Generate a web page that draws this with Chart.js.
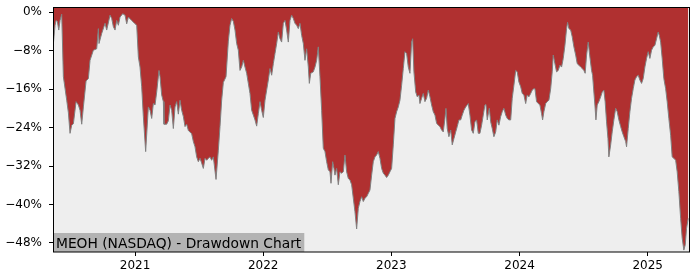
<!DOCTYPE html>
<html>
<head>
<meta charset="utf-8">
<title>MEOH Drawdown</title>
<script src="https://cdn.jsdelivr.net/npm/chart.js@4.4.1/dist/chart.umd.min.js"></script>
<style>
  html, body { margin: 0; padding: 0; background: #fff; }
  canvas { display: block; }
</style>
</head>
<body>
<canvas id="drawdownChart" width="700" height="280"></canvas>
<script>
// dates as decimal years
const years = [
  2020.363, 2020.376, 2020.384, 2020.394, 2020.405, 2020.415, 2020.428, 2020.441, 2020.467, 2020.480,
  2020.493, 2020.506, 2020.519, 2020.540, 2020.558, 2020.571, 2020.584, 2020.597, 2020.618, 2020.636,
  2020.649, 2020.675, 2020.701, 2020.714, 2020.719, 2020.740, 2020.766, 2020.779, 2020.805, 2020.818,
  2020.831, 2020.844, 2020.857, 2020.870, 2020.883, 2020.904, 2020.922, 2020.935, 2020.948, 2020.974,
  2021.000, 2021.013, 2021.026, 2021.039, 2021.052, 2021.065, 2021.083, 2021.104, 2021.117, 2021.130,
  2021.143, 2021.156, 2021.169, 2021.187, 2021.195, 2021.208, 2021.221, 2021.226, 2021.247, 2021.260,
  2021.273, 2021.286, 2021.299, 2021.312, 2021.325, 2021.338, 2021.351, 2021.364, 2021.377, 2021.390,
  2021.403, 2021.416, 2021.442, 2021.455, 2021.468, 2021.481, 2021.494, 2021.507, 2021.520, 2021.533,
  2021.546, 2021.559, 2021.572, 2021.585, 2021.598, 2021.611, 2021.632, 2021.650, 2021.663, 2021.676,
  2021.689, 2021.710, 2021.728, 2021.741, 2021.754, 2021.767, 2021.780, 2021.793, 2021.806, 2021.819,
  2021.832, 2021.845, 2021.858, 2021.871, 2021.884, 2021.897, 2021.910, 2021.923, 2021.936, 2021.949,
  2021.962, 2021.975, 2021.988, 2022.001, 2022.014, 2022.027, 2022.040, 2022.053, 2022.066, 2022.079,
  2022.092, 2022.105, 2022.118, 2022.131, 2022.144, 2022.157, 2022.170, 2022.183, 2022.196, 2022.209,
  2022.222, 2022.235, 2022.248, 2022.261, 2022.274, 2022.287, 2022.300, 2022.313, 2022.326, 2022.339,
  2022.352, 2022.360, 2022.371, 2022.391, 2022.404, 2022.417, 2022.430, 2022.443, 2022.456, 2022.469,
  2022.482, 2022.495, 2022.508, 2022.521, 2022.529, 2022.542, 2022.552, 2022.560, 2022.573, 2022.586,
  2022.599, 2022.612, 2022.625, 2022.638, 2022.651, 2022.664, 2022.677, 2022.690, 2022.703, 2022.716,
  2022.729, 2022.742, 2022.755, 2022.768, 2022.781, 2022.794, 2022.807, 2022.820, 2022.833, 2022.846,
  2022.859, 2022.872, 2022.885, 2022.898, 2022.911, 2022.924, 2022.937, 2022.950, 2022.963, 2022.976,
  2022.989, 2023.002, 2023.015, 2023.028, 2023.041, 2023.054, 2023.067, 2023.080, 2023.093, 2023.106,
  2023.119, 2023.132, 2023.145, 2023.158, 2023.166, 2023.176, 2023.190, 2023.202, 2023.215, 2023.223,
  2023.236, 2023.249, 2023.262, 2023.275, 2023.288, 2023.301, 2023.314, 2023.327, 2023.340, 2023.353,
  2023.366, 2023.379, 2023.392, 2023.405, 2023.418, 2023.426, 2023.436, 2023.449, 2023.463, 2023.475,
  2023.488, 2023.502, 2023.514, 2023.527, 2023.541, 2023.553, 2023.566, 2023.580, 2023.592, 2023.600,
  2023.613, 2023.626, 2023.639, 2023.652, 2023.665, 2023.678, 2023.691, 2023.704, 2023.717, 2023.730,
  2023.738, 2023.748, 2023.764, 2023.775, 2023.787, 2023.800, 2023.814, 2023.826, 2023.839, 2023.853,
  2023.865, 2023.878, 2023.892, 2023.904, 2023.917, 2023.931, 2023.943, 2023.956, 2023.970, 2023.982,
  2023.995, 2024.009, 2024.021, 2024.034, 2024.048, 2024.060, 2024.073, 2024.087, 2024.099, 2024.112,
  2024.120, 2024.133, 2024.146, 2024.159, 2024.172, 2024.180, 2024.190, 2024.204, 2024.216, 2024.229,
  2024.243, 2024.255, 2024.263, 2024.276, 2024.289, 2024.302, 2024.315, 2024.328, 2024.341, 2024.354,
  2024.367, 2024.375, 2024.385, 2024.399, 2024.411, 2024.424, 2024.438, 2024.450, 2024.463, 2024.477,
  2024.489, 2024.502, 2024.512, 2024.523, 2024.536, 2024.549, 2024.562, 2024.570, 2024.580, 2024.588,
  2024.596, 2024.606, 2024.619, 2024.633, 2024.645, 2024.658, 2024.668, 2024.679, 2024.690, 2024.697,
  2024.711, 2024.723, 2024.736, 2024.750, 2024.762, 2024.775, 2024.789, 2024.801, 2024.814, 2024.828,
  2024.835, 2024.848, 2024.861, 2024.874, 2024.887, 2024.900, 2024.913, 2024.926, 2024.939, 2024.952,
  2024.965, 2024.978, 2024.991, 2025.004, 2025.017, 2025.030, 2025.043, 2025.056, 2025.069, 2025.082,
  2025.090, 2025.101, 2025.113, 2025.126, 2025.140, 2025.152, 2025.165, 2025.179, 2025.191, 2025.204,
  2025.218, 2025.230, 2025.243, 2025.257, 2025.269, 2025.282, 2025.293, 2025.303, 2025.316
];

// drawdown from running peak, in percent
const drawdown = [
  -6.5, -2.7, -1.7, -1.9, -3.7, -1.7, -0.4, -13.4, -18.3, -20.9,
  -25.2, -23.5, -23.2, -18.6, -19.3, -20.4, -23.3, -19.7, -14.3, -13.8,
  -10.0, -7.9, -7.6, -3.4, -6.5, -4.4, -2.3, -3.7, -0.6, -1.3,
  -3.0, -3.7, -1.7, -2.7, -1.0, -0.3, -0.6, -2.4, -1.0, -1.7,
  -2.4, -2.7, -9.3, -11.4, -15.5, -21.7, -29.0, -19.7, -20.4, -22.1,
  -19.0, -19.3, -16.6, -12.1, -13.4, -17.2, -18.6, -23.3, -23.3, -22.6,
  -19.3, -20.4, -24.2, -19.7, -18.6, -21.2, -18.3, -20.4, -21.7, -23.8,
  -23.3, -24.6, -25.3, -26.9, -28.0, -30.1, -31.1, -30.4, -31.4, -32.5,
  -30.4, -30.8, -30.4, -30.1, -30.8, -30.1, -34.8, -28.7, -23.8, -18.3,
  -14.6, -13.4, -6.0, -2.7, -1.3, -1.9, -3.7, -6.5, -7.9, -12.1,
  -11.4, -10.0, -11.4, -12.7, -14.8, -16.9, -20.4, -21.4, -22.4, -23.7,
  -21.1, -18.6, -20.4, -21.9, -18.3, -16.2, -14.1, -11.7, -13.1, -10.7,
  -8.6, -6.5, -4.1, -5.5, -6.2, -2.3, -1.7, -3.7, -6.2, -1.7,
  -0.6, -1.3, -2.3, -2.7, -3.4, -2.3, -4.8, -6.5, -10.0, -7.6,
  -11.4, -14.8, -12.7, -12.4, -11.4, -10.0, -7.2, -13.4, -20.4, -28.3,
  -29.0, -31.1, -32.8, -33.2, -35.6, -31.1, -32.5, -33.9, -32.5, -35.9,
  -33.2, -33.5, -33.2, -29.7, -33.2, -34.6, -34.9, -35.9, -38.7, -41.5,
  -45.1, -40.8, -39.4, -38.4, -39.4, -38.7, -38.4, -37.7, -37.0, -33.9,
  -31.1, -30.1, -29.7, -29.0, -30.4, -32.5, -33.5, -33.9, -34.4, -33.9,
  -33.2, -32.5, -27.6, -22.1, -20.7, -19.7, -18.3, -15.2, -11.7, -8.2,
  -8.6, -11.4, -12.7, -6.2, -5.5, -12.4, -16.6, -17.6, -17.2, -19.0,
  -17.9, -16.9, -18.6, -17.9, -16.2, -17.6, -19.3, -20.7, -21.4, -23.1,
  -23.5, -23.8, -24.5, -24.9, -22.1, -20.0, -24.2, -25.9, -24.5, -27.6,
  -26.3, -24.9, -23.8, -22.4, -22.4, -21.4, -20.4, -19.7, -19.3, -19.0,
  -21.4, -24.5, -25.2, -22.8, -22.4, -25.2, -25.2, -23.5, -21.4, -19.3,
  -19.2, -22.4, -20.0, -22.8, -24.2, -25.9, -24.9, -22.4, -23.5, -21.7,
  -20.7, -20.0, -21.4, -22.1, -22.4, -22.4, -17.9, -15.2, -12.1, -12.4,
  -14.5, -15.5, -16.9, -17.2, -19.0, -17.2, -17.6, -16.9, -16.2, -15.9,
  -15.9, -18.6, -19.0, -19.3, -21.1, -22.4, -20.7, -19.0, -18.6, -18.3,
  -15.9, -12.4, -8.9, -10.7, -12.4, -12.1, -11.0, -11.4, -9.6, -6.9,
  -3.4, -2.1, -3.4, -3.7, -5.1, -7.2, -8.9, -10.7, -11.0, -11.4,
  -11.7, -12.1, -12.7, -8.9, -6.2, -9.3, -12.1, -13.1, -16.6, -19.3,
  -22.4, -19.3, -18.6, -17.6, -16.6, -16.2, -18.6, -22.8, -26.3, -30.1,
  -27.6, -24.9, -22.4, -20.0, -20.7, -22.4, -23.8, -24.9, -25.9, -26.9,
  -28.0, -24.2, -20.7, -17.9, -15.9, -14.1, -13.4, -13.1, -14.1, -14.8,
  -13.8, -11.4, -9.6, -8.2, -9.6, -7.9, -7.2, -6.9, -5.5, -4.1,
  -4.8, -6.2, -9.6, -13.8, -15.9, -18.6, -22.1, -25.6, -30.1, -30.4,
  -30.8, -33.2, -37.3, -42.9, -47.0, -49.5, -48.4, -45.0, -42.9
];

const yearTicks = [2021, 2022, 2023, 2024, 2025];
const pctTicks = [-48, -40, -32, -24, -16, -8, 0];
const chartTitle = 'MEOH (NASDAQ) - Drawdown Chart';

const FONT = 'DejaVu Sans';

// grey plot background behind the area fill
const plotBackground = {
  id: 'plotBackground',
  beforeDatasetsDraw(chart) {
    const { ctx, chartArea: a } = chart;
    ctx.save();
    ctx.fillStyle = '#eeeeee';
    ctx.fillRect(a.left, a.top, a.right - a.left, a.bottom - a.top);
    ctx.restore();
  }
};

// label box in the lower left corner + black frame round the plot
const frameAndLabel = {
  id: 'frameAndLabel',
  afterDatasetsDraw(chart) {
    const { ctx, chartArea: a } = chart;
    ctx.save();
    ctx.font = '13.8px "' + FONT + '"';
    const w = ctx.measureText(chartTitle).width;
    ctx.fillStyle = '#b3b3b3';
    ctx.fillRect(a.left, a.bottom - 19, w + 6, 19);
    ctx.fillStyle = '#000';
    ctx.textBaseline = 'alphabetic';
    ctx.fillText(chartTitle, a.left + 3, a.bottom - 4.5);

    ctx.strokeStyle = '#000';
    ctx.lineWidth = 1;
    ctx.strokeRect(Math.round(a.left) + 0.5, Math.round(a.top) + 0.5,
      Math.round(a.right - a.left) - 1, Math.round(a.bottom - a.top) - 0.5);
    ctx.restore();
  }
};

new Chart(document.getElementById('drawdownChart'), {
  type: 'line',
  data: {
    datasets: [{
      data: years.map((x, i) => ({ x: x, y: drawdown[i] })),
      fill: 'end',
      backgroundColor: 'rgb(176, 48, 48)',
      borderColor: '#808080',
      borderWidth: 1,
      pointRadius: 0,
      tension: 0
    }]
  },
  options: {
    responsive: false,
    animation: false,
    events: [],
    layout: { padding: { top: 7, right: 10, left: 0, bottom: 0 } },
    plugins: {
      legend: { display: false },
      tooltip: { enabled: false }
    },
    scales: {
      x: {
        type: 'linear',
        min: 2020.36,
        max: 2025.33,
        afterBuildTicks: (scale) => { scale.ticks = yearTicks.map(v => ({ value: v })); },
        afterFit: (scale) => {
          scale.height = 28;
          scale.paddingLeft = 0;
          scale.paddingRight = 0;
        },
        border: { display: false },
        grid: { drawOnChartArea: false, color: '#000', tickLength: 4 },
        ticks: {
          color: '#000',
          font: { family: FONT, size: 12 },
          padding: 3,
          maxRotation: 0,
          autoSkip: false,
          callback: (v) => String(v)
        }
      },
      y: {
        min: -49.9,
        max: 1.1,
        afterBuildTicks: (scale) => { scale.ticks = pctTicks.map(v => ({ value: v })); },
        afterFit: (scale) => {
          scale.width = 53;
          scale.paddingTop = 0;
          scale.paddingBottom = 0;
        },
        border: { display: false },
        grid: { drawOnChartArea: false, color: '#000', tickLength: 4 },
        ticks: {
          color: '#000',
          font: { family: FONT, size: 12 },
          padding: 7,
          autoSkip: false,
          callback: (v) => (v === 0 ? '0%' : '\u2212' + Math.abs(v) + '%')
        }
      }
    }
  },
  plugins: [plotBackground, frameAndLabel]
});
</script>
</body>
</html>
